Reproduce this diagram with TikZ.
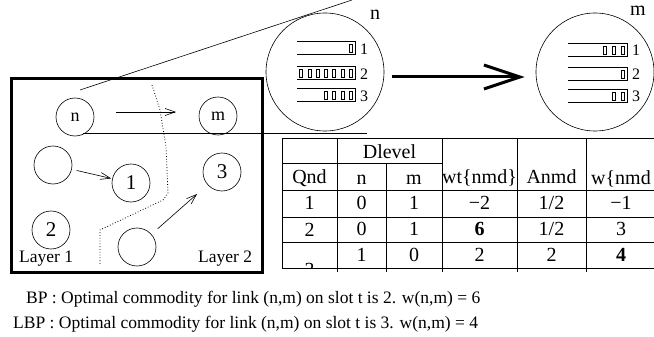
\documentclass[tikz,border=0pt]{standalone}
\usepackage{fontspec}
\setmainfont{Liberation Serif}
\usetikzlibrary{positioning,calc,arrows.meta}
\tikzset{
  site/.style={circle,draw,line width=0.6pt,minimum size=38pt,inner sep=0pt,font=\fontsize{18}{18}\selectfont},
  numsite/.style={site,font=\fontsize{21}{21}\selectfont},
  bigsite/.style={circle,draw,line width=0.6pt,minimum size=118pt,inner sep=0pt},
  link/.style={-{Straight Barb[length=10pt,width=7pt]},line width=0.6pt},
  buf/.style={line width=0.6pt},
  packet/.style={line width=1pt,fill=white},
  grid/.style={line width=0.6pt},
  cell/.style={anchor=base,inner sep=0pt,font=\fontsize{20}{20}\selectfont},
  bufnum/.style={anchor=west,inner sep=0pt,font=\fontsize{16}{16}\selectfont},
  note/.style={anchor=base west,inner sep=0pt,font=\fontsize{17.5}{17.5}\selectfont}
}

\begin{document}
\begin{tikzpicture}[x=1pt,y=-1pt]
   \clip (0,0) rectangle (654,337);

   % the network, two layers
   \draw[line width=3pt] (11,79) rectangle (262,272);
   \node[site]     (nsite)     at (75,117)  {n};
   \node[site]     (msite)     at (218,116) {m};
   \node[site]     (asite)     at (53,165)  {};
   \node[numsite]  (onesite)   at (131,183) {1};
   \node[numsite]  (threesite) at (222,172) {3};
   \node[numsite]  (twosite)   at (51,230)  {2};
   \node[site]     (bsite)     at (137,247) {};
   \node[note] (layerone) at (19,262)  {Layer 1};
   \node[note] (layertwo) at (198,262) {Layer 2};

   \draw[dotted,line width=0.8pt] (152,85) -- (160,110) -- (166,147) -- (168,193)
        -- (163,200) -- (100,230) -- (100,264);

   \draw[link,shorten <=41pt,shorten >=42pt] ([yshift=5pt]nsite.center) -- ([yshift=4pt]msite.center);
   \draw[link,shorten <=5pt,shorten >=1pt] (asite) -- (onesite);
   \draw[link,shorten <=8pt,shorten >=14pt] (bsite) -- (threesite);

   % zoom on the queues of n and m
   \node[bigsite] (zoomn) at (325,72) {};
   \node[bigsite] (zoomm) at (595,72) {};
   \node[cell] (nlab) at (375,20) {n};
   \node[cell] (mlab) at (638,16) {m};

   \coordinate (ntop) at (80,90);
   \coordinate (ztop) at (352,0);
   \coordinate (nbot) at (83,133);
   \coordinate (zbot) at (367,133);
   \draw[line width=0.6pt] (ntop) -- (ztop);
   \draw[line width=0.6pt] (nbot) -- (zbot);

   \foreach \top/\cnt/\q in {41/1/1,66/7/2,88/4/3} {
      \draw[buf] (297,\top) -- (355,\top) -- (355,\top+13) -- (297,\top+13);
      \foreach \k in {1,...,\cnt}
         \draw[packet] (352.5-8.3*\k+8.3,\top+4) rectangle (349.5-8.3*\k+8.3,\top+12);
      \node[bufnum] (nq\q) at (360,\top+8) {\q};
   }
   \foreach \top/\cnt/\q in {43/3/1,67/1/2,89/2/3} {
      \draw[buf] (568,\top) -- (627,\top) -- (627,\top+13) -- (568,\top+13);
      \foreach \k in {1,...,\cnt}
         \draw[packet] (624-9*\k+9,\top+4) rectangle (621-9*\k+9,\top+12);
      \node[bufnum] (mq\q) at (632,\top+7) {\q};
   }

   \draw[line width=3pt,-{Straight Barb[length=36pt,width=24pt]}]
        ($(zoomn.east)+(8,5)$) -- ($(zoomm.west)+(-11,5)$);

   % table
   \draw[grid] (282,138) -- (660,138);
   \draw[grid] (282,163) -- (442,163);
   \draw[grid] (282,190) -- (660,190);
   \draw[grid] (282,217) -- (660,217);
   \draw[grid] (282,242) -- (660,242);
   \draw[grid] (282,268) -- (660,268);
   \draw[grid] (282,138) -- (282,268);
   \draw[grid] (337,138) -- (337,272);
   \draw[grid] (386,163) -- (386,272);
   \draw[grid] (442,138) -- (442,272);
   \draw[grid] (517,138) -- (517,272);
   \draw[grid] (586,138) -- (586,272);

   \node[cell] (dlevel) at (389.5,158) {Dlevel};
   \node[cell] (hqnd)  at (309.5,183) {Qnd};
   \node[cell] (hn)    at (361.5,184) {n};
   \node[cell] (hm)    at (414,184)   {m};
   \node[cell] (hwt)   at (479.5,183) {wt\{nmd\}};
   \node[cell] (hanmd) at (551.5,183) {Anmd};
   \node[cell] (hw)    at (621,184)   {w\{nmd};

   \node[cell] (qa) at (309.5,209) {1};
   \node[cell] (qb) at (309.5,236) {2};
   \begin{scope}
      \clip (283,243) rectangle (336,268);
      \node[cell] (qc) at (309.5,276) {3};
   \end{scope}
   \foreach \y/\dn/\dm/\wt/\an/\w [count=\r] in
      {209/0/1/−2/1\slash2/−1, 235/0/1/\textbf{6}/1\slash2/3, 261/1/0/2/2/\textbf{4}} {
      \node[cell] (dn\r) at (361.5,\y) {\dn};
      \node[cell] (dm\r) at (414,\y)   {\dm};
      \node[cell] (wt\r) at (479.5,\y) {\wt};
      \node[cell] (an\r) at (551.5,\y) {\an};
      \node[cell] (w\r)  at (621,\y)   {\w};
   }

   % the two rules
   \node[note] (bp)  at (26,303) {BP : Optimal commodity for link (n,m) on slot t is 2. w(n,m) = 6};
   \node[note] (lbp) at (13,328) {LBP : Optimal commodity for link (n,m) on slot t is 3. w(n,m) = 4};
\end{tikzpicture}
\end{document}
